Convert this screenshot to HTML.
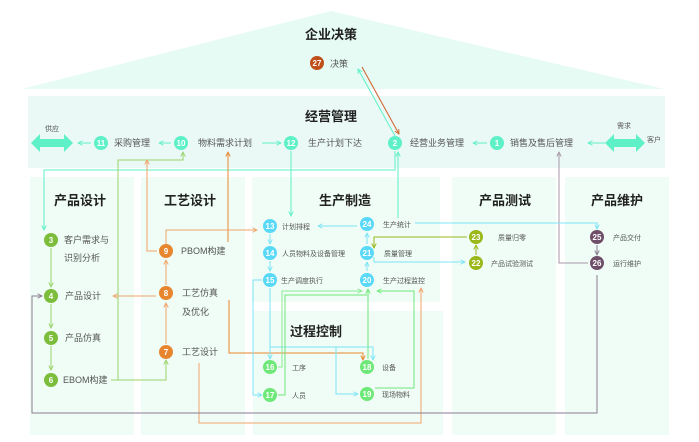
<!DOCTYPE html>
<html><head><meta charset="utf-8"><style>
html,body{margin:0;padding:0;background:#fff;}
svg{display:block;font-family:"Liberation Sans","Noto Sans CJK SC",sans-serif;}
.t{font-size:9px;fill:#555;}
.s{font-size:7px;fill:#555;}
.h{font-size:13px;font-weight:bold;fill:#222;}
.n{font-size:8px;font-weight:bold;fill:#fff;text-anchor:middle;}
</style></head><body>
<svg width="699" height="442" viewBox="0 0 699 442" xmlns="http://www.w3.org/2000/svg">
<defs>
<marker id="a" viewBox="0 0 8 8" refX="7" refY="4" markerWidth="6" markerHeight="6" orient="auto-start-reverse"><path d="M1,1 L7,4 L1,7" fill="none" stroke="context-stroke" stroke-width="1.2"/></marker>
</defs>
<polygon points="22,89 331,11 664,89" fill="#e6fbf3"/>
<rect x="28" y="96" width="637" height="72" fill="#eaf9f6"/>
<rect x="30" y="177" width="104" height="258" fill="#effdf6"/>
<rect x="141" y="177" width="104" height="258" fill="#effdf6"/>
<rect x="252" y="177" width="188" height="125" fill="#effdf6"/>
<rect x="253" y="311" width="190" height="124" fill="#effdf6"/>
<rect x="452" y="177" width="104" height="258" fill="#effdf6"/>
<rect x="565" y="177" width="104" height="258" fill="#effdf6"/>

<text class="h" x="331" y="39" text-anchor="middle">企业决策</text>
<text class="h" x="331" y="121" text-anchor="middle">经营管理</text>
<text class="h" x="80" y="205" text-anchor="middle">产品设计</text>
<text class="h" x="190" y="205" text-anchor="middle">工艺设计</text>
<text class="h" x="345" y="205" text-anchor="middle">生产制造</text>
<text class="h" x="505" y="205" text-anchor="middle">产品测试</text>
<text class="h" x="617" y="205" text-anchor="middle">产品维护</text>
<text class="h" x="316" y="336" text-anchor="middle">过程控制</text>

<polygon points="31,143 40,134 40,139 64,139 64,134 73,143 64,152 64,147 40,147 40,152" fill="#5ef0c7"/>
<polygon points="605,143 614,134 614,139 636,139 636,134 645,143 636,152 636,147 614,147 614,152" fill="#5ef0c7"/>
<text class="s" x="52" y="131" text-anchor="middle">供应</text>
<text class="s" x="624" y="128" text-anchor="middle">需求</text>
<text class="s" x="647" y="142">客户</text>

<g fill="none" stroke-width="1">
<line x1="91" y1="143" x2="78" y2="143" stroke="#5ef0c7" marker-end="url(#a)"/>
<line x1="171" y1="143" x2="159" y2="143" stroke="#5ef0c7" marker-end="url(#a)"/>
<line x1="262" y1="143" x2="281" y2="143" stroke="#5ef0c7" marker-end="url(#a)"/>
<line x1="487" y1="143" x2="473" y2="143" stroke="#5ef0c7" marker-end="url(#a)"/>
<line x1="605" y1="143" x2="588" y2="143" stroke="#5ef0c7" marker-end="url(#a)"/>
<line x1="362" y1="67" x2="399" y2="134" stroke="#d0602a" marker-end="url(#a)"/>
<line x1="395" y1="136" x2="358" y2="69" stroke="#5ef0c7" marker-end="url(#a)"/>
<polyline points="395,151 395,170 44,170 44,230" stroke="#5ef0c7" marker-end="url(#a)"/>
<polyline points="118,380 118,160 183,160 183,152" stroke="#9bd36a" marker-end="url(#a)"/>
<polyline points="111,380 166,380 166,360" stroke="#9bd36a" marker-end="url(#a)"/>
<polyline points="157,251 147,251 147,160" stroke="#f0a36a" marker-end="url(#a)"/>
<polyline points="228,242 228,152" stroke="#e8862f" marker-end="url(#a)"/>
<polyline points="166,244 166,230 257,230" stroke="#f0a36a" marker-end="url(#a)"/>
<line x1="156" y1="296" x2="113" y2="296" stroke="#f0a36a" marker-end="url(#a)"/>
<line x1="166" y1="344" x2="166" y2="303" stroke="#f0a36a" marker-end="url(#a)"/>
<line x1="166" y1="285" x2="166" y2="260" stroke="#f0a36a" marker-end="url(#a)"/>
<polyline points="229,300 229,353 363,353 363,360" stroke="#e8862f" marker-end="url(#a)"/>
<polyline points="199,363 199,423 421,423 421,288" stroke="#f0a36a" marker-end="url(#a)"/>
<line x1="51" y1="248" x2="51" y2="287" stroke="#9bd36a" marker-end="url(#a)"/>
<line x1="51" y1="304" x2="51" y2="328" stroke="#9bd36a" marker-end="url(#a)"/>
<line x1="51" y1="346" x2="51" y2="370" stroke="#9bd36a" marker-end="url(#a)"/>
<polyline points="597,275 597,413 32,413 32,296 42,296" stroke="#8a7a90" marker-end="url(#a)"/>
<polyline points="588,263 559,263 559,152" stroke="#a898a8" marker-end="url(#a)"/>
<polyline points="291,151 291,216" stroke="#5ef0c7" marker-end="url(#a)"/>
<polyline points="398,218 398,152" stroke="#5ef0c7" marker-end="url(#a)"/>
<polyline points="415,223 597,223 597,229" stroke="#7ee4f8" marker-end="url(#a)"/>
<line x1="357" y1="226" x2="318" y2="226" stroke="#7ee4f8" marker-end="url(#a)"/>
<line x1="270" y1="234" x2="270" y2="244" stroke="#7ee4f8" marker-end="url(#a)"/>
<line x1="270" y1="261" x2="270" y2="271" stroke="#7ee4f8" marker-end="url(#a)"/>
<line x1="367" y1="271" x2="367" y2="262" stroke="#7ee4f8" marker-end="url(#a)"/>
<line x1="367" y1="244" x2="367" y2="233" stroke="#7ee4f8" marker-end="url(#a)"/>
<polyline points="374,257 374,262 465,262" stroke="#7ee4f8" marker-end="url(#a)"/>
<polyline points="467,237 374,237 374,248" stroke="#9ab81a" marker-end="url(#a)"/>
<line x1="476" y1="255" x2="476" y2="245" stroke="#9ab81a" marker-end="url(#a)"/>
<line x1="597" y1="245" x2="597" y2="255" stroke="#8a7a90" marker-end="url(#a)"/>
<polyline points="262,280 253,280 253,395 262,395" stroke="#7ee4f8" marker-end="url(#a)"/>
<line x1="270" y1="288" x2="270" y2="359" stroke="#7ee4f8" marker-end="url(#a)"/>
<polyline points="270,347 373,347 373,360" stroke="#7ee4f8" marker-end="url(#a)"/>
<polyline points="336,347 336,394 358,394" stroke="#7ee4f8" marker-end="url(#a)"/>
<polyline points="278,367 282,367 282,291 362,291" stroke="#8aea90" marker-end="url(#a)"/>
<polyline points="278,395 285,395 285,295 367,295" stroke="#6ee878"/>
<line x1="368" y1="359" x2="368" y2="289" stroke="#6ee878" marker-end="url(#a)"/>
<polyline points="375,388 414,388 414,291 377,291" stroke="#6ee878" marker-end="url(#a)"/>
</g>

<g>
<circle cx="317" cy="63" r="7" fill="#c0501a"/><text class="n" x="317" y="66">27</text>
<text class="t" x="330" y="67">决策</text>
<circle cx="101" cy="143" r="7" fill="#5ef0c7"/><text class="n" x="101" y="146">11</text>
<text class="t" x="114" y="146">采购管理</text>
<circle cx="181" cy="143" r="7" fill="#5ef0c7"/><text class="n" x="181" y="146">10</text>
<text class="t" x="198" y="146">物料需求计划</text>
<circle cx="291" cy="143" r="7" fill="#5ef0c7"/><text class="n" x="291" y="146">12</text>
<text class="t" x="308" y="146">生产计划下达</text>
<circle cx="395" cy="143" r="7" fill="#5ef0c7"/><text class="n" x="395" y="146">2</text>
<text class="t" x="410" y="146">经营业务管理</text>
<circle cx="497" cy="143" r="7" fill="#5ef0c7"/><text class="n" x="497" y="146">1</text>
<text class="t" x="510" y="146">销售及售后管理</text>

<circle cx="51" cy="240" r="7" fill="#7cbd3b"/><text class="n" x="51" y="243">3</text>
<text class="t" x="64" y="243">客户需求与</text><text class="t" x="64" y="261">识别分析</text>
<circle cx="51" cy="296" r="7" fill="#7cbd3b"/><text class="n" x="51" y="299">4</text>
<text class="t" x="65" y="299">产品设计</text>
<circle cx="51" cy="338" r="7" fill="#7cbd3b"/><text class="n" x="51" y="341">5</text>
<text class="t" x="65" y="341">产品仿真</text>
<circle cx="51" cy="380" r="7" fill="#7cbd3b"/><text class="n" x="51" y="383">6</text>
<text class="t" x="63" y="383">EBOM构建</text>

<circle cx="166" cy="251" r="7" fill="#e8862f"/><text class="n" x="166" y="254">9</text>
<text class="t" x="181" y="254">PBOM构建</text>
<circle cx="166" cy="293" r="7" fill="#e8862f"/><text class="n" x="166" y="296">8</text>
<text class="t" x="182" y="296">工艺仿真</text><text class="t" x="182" y="315">及优化</text>
<circle cx="166" cy="352" r="7" fill="#e8862f"/><text class="n" x="166" y="355">7</text>
<text class="t" x="182" y="355">工艺设计</text>

<circle cx="270" cy="226" r="7" fill="#5ad8f8"/><text class="n" x="270" y="229">13</text>
<text class="s" x="282" y="229">计划排程</text>
<circle cx="270" cy="253" r="7" fill="#5ad8f8"/><text class="n" x="270" y="256">14</text>
<text class="s" x="282" y="256">人员物料及设备管理</text>
<circle cx="270" cy="280" r="7" fill="#5ad8f8"/><text class="n" x="270" y="283">15</text>
<text class="s" x="281" y="283">生产调度执行</text>
<circle cx="367" cy="224" r="7" fill="#5ad8f8"/><text class="n" x="367" y="227">24</text>
<text class="s" x="383" y="227">生产统计</text>
<circle cx="367" cy="253" r="7" fill="#5ad8f8"/><text class="n" x="367" y="256">21</text>
<text class="s" x="384" y="256">质量管理</text>
<circle cx="367" cy="280" r="7" fill="#5ad8f8"/><text class="n" x="367" y="283">20</text>
<text class="s" x="383" y="283">生产过程监控</text>

<circle cx="270" cy="367" r="7" fill="#6ee878"/><text class="n" x="270" y="370">16</text>
<text class="s" x="292" y="370">工序</text>
<circle cx="270" cy="395" r="7" fill="#6ee878"/><text class="n" x="270" y="398">17</text>
<text class="s" x="292" y="398">人员</text>
<circle cx="367" cy="367" r="7" fill="#6ee878"/><text class="n" x="367" y="370">18</text>
<text class="s" x="382" y="370">设备</text>
<circle cx="367" cy="394" r="7" fill="#6ee878"/><text class="n" x="367" y="397">19</text>
<text class="s" x="382" y="397">现场物料</text>

<circle cx="476" cy="237" r="7" fill="#9ab81a"/><text class="n" x="476" y="240">23</text>
<text class="s" x="498" y="240">质量归零</text>
<circle cx="476" cy="263" r="7" fill="#9ab81a"/><text class="n" x="476" y="266">22</text>
<text class="s" x="491" y="266">产品试验测试</text>
<circle cx="597" cy="237" r="7" fill="#6e4e68"/><text class="n" x="597" y="240">25</text>
<text class="s" x="613" y="240">产品交付</text>
<circle cx="597" cy="263" r="7" fill="#6e4e68"/><text class="n" x="597" y="266">26</text>
<text class="s" x="613" y="266">运行维护</text>
</g>
</svg>
</body></html>
